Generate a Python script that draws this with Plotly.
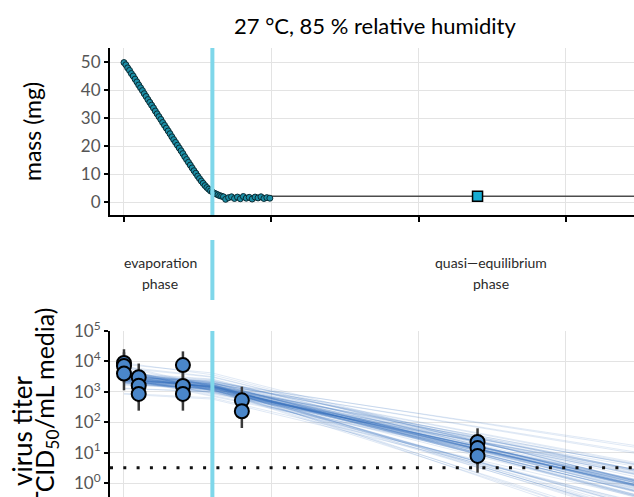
import plotly.graph_objects as go

# ---------------- data ----------------
# mass measurements (hours, mg)
mass_t = [0.0, 0.125, 0.25, 0.375, 0.5, 0.625, 0.75, 0.875, 1.0, 1.125, 1.25, 1.375, 1.5, 1.625, 1.75, 1.875,
          2.0, 2.125, 2.25, 2.375, 2.5, 2.625, 2.75, 2.875, 3.0, 3.125, 3.25, 3.375, 3.5, 3.625, 3.75, 3.875,
          4.0, 4.125, 4.25, 4.375, 4.5, 4.625, 4.75, 4.875, 5.0, 5.125, 5.25, 5.375, 5.5, 5.625, 5.75, 5.875,
          6.0, 6.125, 6.25, 6.375, 6.5, 6.625, 6.75, 6.9, 7.1, 7.3, 7.5, 7.7, 7.9, 8.1, 8.3, 8.5, 8.7, 8.9,
          9.1, 9.3, 9.5, 9.7, 9.9]
mass_mg = [49.8, 49.0, 47.9, 47.0, 45.9, 45.0, 43.9, 42.9, 41.8, 40.8, 39.8, 38.7, 37.7, 36.6, 35.6, 34.6,
           33.6, 32.5, 31.5, 30.5, 29.5, 28.4, 27.4, 26.4, 25.4, 24.4, 23.3, 22.3, 21.3, 20.3, 19.3, 18.3,
           17.3, 16.2, 15.2, 14.2, 13.2, 12.2, 11.2, 10.3, 9.3, 8.4, 7.5, 6.7, 5.9, 5.2, 4.6, 4.0,
           3.6, 3.2, 2.9, 2.6, 2.3, 2.1, 1.9, 1.0, 1.6, 1.9, 1.3, 1.8, 1.2, 2.0, 1.4, 1.7, 1.1, 1.8,
           1.5, 1.9, 1.3, 1.6, 1.4]
# model mass curve
fit_t = [0.0, 5.0, 5.5, 6.0, 6.5, 7.0, 7.5, 8.0, 40.0]
fit_mg = [50.0, 9.2, 5.6, 3.4, 2.5, 2.2, 2.1, 2.1, 2.1]
# equilibrium mass marker
eq_t = [24]
eq_mg = [2.1]

# virus titer observations (hours, log10 TCID50/mL)
titer_t = [0, 0, 0, 1, 1, 1, 4, 4, 4, 8, 8, 24, 24, 24]
titer_log = [3.95, 3.85, 3.60, 3.48, 3.20, 2.93, 3.88, 3.19, 2.93, 2.72, 2.36, 1.35, 1.15, 0.89]
err_up = 0.45
err_down = 0.55

# posterior regression lines (log10 titer at t = 0, 6, 36 h)
line_knots = [0, 6, 36]
line_t0 = [3.42, 3.70, 3.52, 3.55, 3.36, 3.48, 3.58, 3.85, 3.38, 3.44,
           3.60, 3.55, 3.45, 3.30, 3.75, 3.35, 3.52, 3.78, 3.40, 3.66,
           3.28, 3.50, 3.12, 3.44, 3.95, 3.33, 3.58, 2.95, 3.47, 3.22,
           3.40, 3.68, 3.50, 3.53, 3.40, 3.46, 3.62, 3.80, 3.36, 3.46,
           3.62, 3.54, 3.43, 3.34, 3.72, 3.34, 3.50, 3.82, 3.41, 3.64,
           3.30, 3.48, 3.10, 3.45, 3.90, 3.31, 3.56, 2.92, 3.49, 3.24,
           3.45, 3.38, 3.52, 3.33, 3.60, 3.41, 3.47, 3.29, 3.56, 3.36,
           3.43, 3.50, 3.31, 3.64, 3.39, 3.46, 3.35, 3.54, 3.27, 3.48,
           3.40, 3.57, 3.34, 3.44, 3.51, 3.37, 3.62, 3.30, 3.49, 3.42]
line_t6 = [3.16, 3.02, 3.30, 3.10, 3.22, 2.95, 3.40, 3.18, 3.08, 3.26,
           3.12, 3.34, 2.88, 3.20, 3.05, 3.28, 3.14, 3.48, 2.98, 3.24,
           3.10, 3.36, 3.00, 3.18, 3.56, 3.06, 3.22, 2.80, 3.30, 3.12,
           3.15, 3.04, 3.32, 3.09, 3.25, 2.92, 3.42, 3.17, 3.07, 3.27,
           3.13, 3.38, 2.85, 3.21, 3.03, 3.29, 3.11, 3.50, 2.96, 3.23,
           3.19, 3.35, 3.01, 3.16, 3.62, 3.08, 3.20, 2.76, 3.33, 3.14,
           3.18, 3.12, 3.22, 3.08, 3.26, 3.14, 3.20, 3.04, 3.24, 3.10,
           3.16, 3.21, 3.06, 3.30, 3.13, 3.19, 3.09, 3.23, 3.02, 3.17,
           3.15, 3.25, 3.07, 3.18, 3.22, 3.11, 3.28, 3.05, 3.20, 3.16]
line_t36 = [-0.20, 0.17, -0.60, -0.05, -1.28, 0.31, -0.20, 0.18, -1.12, 0.92,
            -0.33, -0.41, -0.06, -1.60, -0.19, 0.52, -0.91, -0.06, 0.52, -1.11,
            -0.20, 0.30, -0.84, 0.48, -0.10, -1.59, 0.31, -0.59, 1.14, -1.02,
            -0.27, 0.25, -0.64, -0.09, -1.19, 0.34, -0.21, 0.14, -1.19, 0.87,
            -0.35, -0.40, -0.12, -1.74, -0.24, 0.56, -0.91, -0.07, 0.44, -1.18,
            -0.14, 0.26, -0.80, 0.49, -0.10, -1.48, 0.32, -0.75, 1.08, -0.94,
            -0.12, -0.42, 0.07, -0.58, 0.26, -0.31, -0.55, -0.20, -0.12, 0.16,
            -0.44, -0.18, -0.03, -0.54, -0.20, -0.02, -0.42, 0.20, -0.40, -0.55,
            -0.12, -0.23, -0.05, -0.45, -0.14, -0.07, -0.29, -0.01, -0.58, -0.23]
median_line = [3.42, 3.16, -0.24]

detection_limit = 3.2  # TCID50/mL
phase_boundary = 6.0   # hours

x_ticks = [0, 10, 20, 30]
mass_ticks = [0, 10, 20, 30, 40, 50]
titer_exps = [0, 1, 2, 3, 4, 5]

# ---------------- figure ----------------
FONT = "Lato"
W, H = 634, 497
CYAN = "#7fd7ea"
GRID = "#e3e3e3"

fig = go.Figure()

# top panel
fig.add_trace(go.Scatter(x=fit_t, y=fit_mg, mode="lines", xaxis="x", yaxis="y",
                         line=dict(color="#4d4d4d", width=1.5), hoverinfo="skip"))
fig.add_trace(go.Scatter(x=mass_t, y=mass_mg, mode="markers", xaxis="x", yaxis="y",
                         marker=dict(size=6, color="#1b8ea6", line=dict(color="#0a2a32", width=1))))
fig.add_trace(go.Scatter(x=eq_t, y=eq_mg, mode="markers", xaxis="x", yaxis="y",
                         marker=dict(symbol="square", size=10, color="#16acd3",
                                     line=dict(color="black", width=1.5))))

# bottom panel: posterior lines
for a, b, c in zip(line_t0, line_t6, line_t36):
    fig.add_trace(go.Scatter(x=line_knots, y=[10 ** a, 10 ** b, 10 ** c], mode="lines",
                             xaxis="x2", yaxis="y2",
                             line=dict(color="rgba(45,105,185,0.15)", width=1), hoverinfo="skip"))
fig.add_trace(go.Scatter(x=line_knots, y=[10 ** v for v in median_line], mode="lines",
                         xaxis="x2", yaxis="y2",
                         line=dict(color="rgba(45,105,185,0.45)", width=1.5), hoverinfo="skip"))
# detection limit
fig.add_trace(go.Scatter(x=[-0.95, 40], y=[detection_limit, detection_limit], mode="lines",
                         xaxis="x2", yaxis="y2",
                         line=dict(color="#111111", width=3, dash="3px,10.3px"), hoverinfo="skip"))
# observations with error bars
ty = [10 ** v for v in titer_log]
fig.add_trace(go.Scatter(
    x=titer_t, y=ty, mode="markers", xaxis="x2", yaxis="y2",
    error_y=dict(type="data", symmetric=False,
                 array=[10 ** (v + err_up) - 10 ** v for v in titer_log],
                 arrayminus=[10 ** v - 10 ** (v - err_down) for v in titer_log],
                 color="#3a3a3a", thickness=2.5, width=0),
    marker=dict(size=14, color="#4a86c9", line=dict(color="black", width=2))))

xl = 110 / W
top_dom = [1 - 215 / H, 1 - 48 / H]
bot_dom = [0, 1 - 331 / H]
xrange_ = [-0.95, 34.62]

axis_common = dict(showgrid=True, gridcolor=GRID, gridwidth=1, zeroline=False, automargin=False)
tickfont = dict(family=FONT, size=17, color="#555555")

fig.update_layout(
    width=W, height=H, margin=dict(l=0, r=0, t=0, b=0, pad=0, autoexpand=False),
    paper_bgcolor="white", plot_bgcolor="white", showlegend=False,
    font=dict(family=FONT),
    xaxis=dict(domain=[xl, 1], range=xrange_, anchor="y", tickvals=x_ticks, showticklabels=False,
               ticks="outside", ticklen=5, tickwidth=1.5, tickcolor="black",
               showline=True, linecolor="black", linewidth=2, **axis_common),
    yaxis=dict(domain=top_dom, range=[-4.6, 55], anchor="x", tickvals=mass_ticks,
               ticks="outside", ticklen=4, tickwidth=1.5, tickcolor="black", tickfont=tickfont,
               showline=True, linecolor="black", linewidth=2, **axis_common),
    xaxis2=dict(domain=[xl, 1], range=xrange_, anchor="y2", tickvals=x_ticks, showticklabels=False,
                ticks="", showline=False, **axis_common),
    yaxis2=dict(domain=bot_dom, type="log", range=[-0.46, 5], anchor="x2",
                tickvals=[10 ** e for e in titer_exps],
                ticktext=[f"10<sup>{e}</sup>" for e in titer_exps],
                ticks="outside", ticklen=4, tickwidth=1.5, tickcolor="black", tickfont=tickfont,
                showline=True, linecolor="black", linewidth=2, **axis_common),
)

# phase boundary lines
fig.add_shape(type="line", xref="x", yref="y domain", x0=phase_boundary, x1=phase_boundary, y0=0, y1=1,
              line=dict(color=CYAN, width=4), layer="above")
fig.add_shape(type="line", xref="x2", yref="y2 domain", x0=phase_boundary, x1=phase_boundary, y0=0, y1=1,
              line=dict(color=CYAN, width=4), layer="above")
fig.add_shape(type="line", xref="x", yref="paper", x0=phase_boundary, x1=phase_boundary,
              y0=1 - 300 / H, y1=1 - 240 / H, line=dict(color=CYAN, width=4))


def px(xp, yp):
    return xp / W, 1 - yp / H


def ann(text, xp, yp, size, color="black", angle=0):
    x, y = px(xp, yp)
    fig.add_annotation(text=text, x=x, y=y, xref="paper", yref="paper", showarrow=False,
                       xanchor="center", yanchor="middle", textangle=angle,
                       font=dict(family=FONT, size=size, color=color))


ann("27 °C, 85 % relative humidity", 375, 25, 22)
ann("mass (mg)", 32, 132, 23, angle=-90)
ann("evaporation", 160, 262, 14, color="#2a2a2a")
ann("phase", 160, 283, 14, color="#2a2a2a")
ann("quasi\u2014equilibrium", 491, 262, 14, color="#2a2a2a")
ann("phase", 491, 283, 14, color="#2a2a2a")
ann("virus titer", 22, 431, 26, angle=-90)
ann("(TCID<sub>50</sub>/mL media)", 46, 410, 25, angle=-90)

fig.write_html("out.html", config={"displayModeBar": False},
               post_script="document.body.style.margin='0';document.body.style.overflow='hidden';")
